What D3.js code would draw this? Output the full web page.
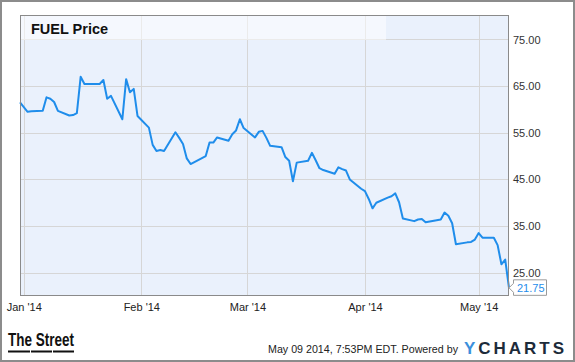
<!DOCTYPE html>
<html>
<head>
<meta charset="utf-8">
<script src="https://cdn.jsdelivr.net/npm/d3@7"></script>
<style>
  html, body { margin: 0; padding: 0; background: #fff; }
  svg { display: block; }
  text { font-family: "Liberation Sans", Arial, sans-serif; }
</style>
</head>
<body>
<svg id="chart" width="575" height="362"></svg>
<script>
// ---- data ----
const dates = [
  "2013-12-31","2014-01-02","2014-01-03","2014-01-06","2014-01-07","2014-01-08","2014-01-09","2014-01-10",
  "2014-01-13","2014-01-14","2014-01-15","2014-01-16","2014-01-17","2014-01-21","2014-01-22","2014-01-23",
  "2014-01-24","2014-01-27","2014-01-28","2014-01-29","2014-01-30","2014-01-31","2014-02-03","2014-02-04",
  "2014-02-05","2014-02-06","2014-02-07","2014-02-10","2014-02-11","2014-02-12","2014-02-13","2014-02-14",
  "2014-02-18","2014-02-19","2014-02-20","2014-02-21","2014-02-24","2014-02-25","2014-02-26","2014-02-27",
  "2014-02-28","2014-03-03","2014-03-04","2014-03-05","2014-03-06","2014-03-07","2014-03-10","2014-03-11",
  "2014-03-12","2014-03-13","2014-03-14","2014-03-17","2014-03-18","2014-03-19","2014-03-20","2014-03-21",
  "2014-03-24","2014-03-25","2014-03-26","2014-03-27","2014-03-28","2014-03-31","2014-04-01","2014-04-02",
  "2014-04-03","2014-04-04","2014-04-07","2014-04-08","2014-04-09","2014-04-10","2014-04-11","2014-04-14",
  "2014-04-15","2014-04-16","2014-04-17","2014-04-21","2014-04-22","2014-04-23","2014-04-24","2014-04-25",
  "2014-04-28","2014-04-29","2014-04-30","2014-05-01","2014-05-02","2014-05-05","2014-05-06","2014-05-07",
  "2014-05-08","2014-05-09"
];
const prices = [
  61.5, 59.5, 59.6, 59.7, 62.6, 62.3, 61.6, 59.7,
  58.7, 58.8, 59.2, 67.0, 65.45, 65.45, 66.3, 62.3,
  62.9, 57.9, 66.5, 63.7, 64.4, 58.6, 56.1, 52.4,
  51.1, 51.3, 51.1, 55.1, 53.9, 52.6, 49.5, 48.3,
  50.0, 52.9, 52.9, 54.0, 53.3, 54.7, 55.5, 57.9,
  56.0, 54.0, 55.2, 55.4, 53.9, 52.2, 51.9, 49.8,
  49.0, 44.6, 48.6, 49.0, 50.7, 49.1, 47.4, 47.0,
  46.2, 47.6, 47.2, 46.9, 45.0, 43.0, 42.5, 40.8,
  38.8, 40.0, 41.1, 41.4, 42.0, 40.1, 36.6, 36.05,
  36.4, 36.5, 35.8, 36.4, 37.9, 37.2, 35.6, 31.1,
  31.5, 31.6, 32.1, 33.5, 32.5, 32.5, 30.9, 26.8,
  27.8, 21.75
];
const yTicks = [25, 35, 45, 55, 65, 75];
const xTickDates = ["2014-01-01","2014-02-01","2014-03-01","2014-04-01","2014-05-01"];
const xTickLabels = ["Jan '14","Feb '14","Mar '14","Apr '14","May '14"];
const title = "FUEL Price";
const lastLabel = "21.75";
const footerText = "May 09 2014, 7:53PM EDT. Powered by";

// ---- drawing ----
const svg = d3.select("#chart");
const L = 20, R = 509, T = 15, B = 296;
const parse = d3.utcParse("%Y-%m-%d");
const data = dates.map((d, i) => ({ date: parse(d), value: prices[i] }));

const x = d3.scaleUtc().domain([parse("2013-12-31"), parse("2014-05-09")]).range([L, R]);
const y = d3.scaleLinear().domain([20, 80.25]).range([B, T]);

// outer frame
svg.append("rect").attr("x", 1).attr("y", 1).attr("width", 573).attr("height", 360)
  .attr("fill", "#fff").attr("stroke", "#8c8c8c").attr("stroke-width", 2);

// plot background
svg.append("rect").attr("x", L).attr("y", T).attr("width", R - L).attr("height", B - T)
  .attr("fill", "#eaf1fc");

// grid
svg.append("g").selectAll("line").data(yTicks).join("line")
  .attr("x1", L).attr("x2", R)
  .attr("y1", d => Math.round(y(d)) + 0.5).attr("y2", d => Math.round(y(d)) + 0.5)
  .attr("stroke", "#d6d6d6").attr("stroke-width", 1);
svg.append("g").selectAll("line").data(xTickDates).join("line")
  .attr("y1", T).attr("y2", B)
  .attr("x1", d => Math.round(x(parse(d))) + 0.5).attr("x2", d => Math.round(x(parse(d))) + 0.5)
  .attr("stroke", "#d6d6d6").attr("stroke-width", 1);

// title box
svg.append("rect").attr("x", L).attr("y", T).attr("width", 366).attr("height", 25)
  .attr("fill", "#fff").attr("fill-opacity", 0.5);
svg.append("text").attr("x", 31).attr("y", 33.5).text(title)
  .attr("font-size", "14.5px").attr("font-weight", "bold").attr("fill", "#111");

// line
const line = d3.line().x(d => x(d.date)).y(d => y(d.value));
svg.append("path").datum(data).attr("d", line)
  .attr("fill", "none").attr("stroke", "#1f8deb").attr("stroke-width", 2)
  .attr("stroke-linejoin", "round");

// plot border
svg.append("rect").attr("x", L + 0.5).attr("y", T + 0.5).attr("width", R - L - 1).attr("height", B - T - 1)
  .attr("fill", "none").attr("stroke", "#8a8a8a").attr("stroke-width", 1);

// y axis labels
const yAxis = d3.axisRight(y).tickValues(yTicks).tickFormat(d3.format(".2f")).tickSize(0).tickPadding(4);
const gy = svg.append("g").attr("transform", `translate(${R},0)`).call(yAxis);
gy.select(".domain").remove();
gy.selectAll("text").attr("font-size", "11px").attr("fill", "#333")
  .attr("font-family", "'Liberation Sans', Arial, sans-serif");

// x axis labels
const xAxis = d3.axisBottom(x).tickValues(xTickDates.map(parse))
  .tickFormat((d, i) => xTickLabels[i]).tickSize(0).tickPadding(7);
const gx = svg.append("g").attr("transform", `translate(0,${B})`).call(xAxis);
gx.select(".domain").remove();
gx.selectAll("text").attr("font-size", "11px").attr("fill", "#222")
  .attr("font-family", "'Liberation Sans', Arial, sans-serif");

// last value marker
const last = data[data.length - 1];
const lx = x(last.date), ly = y(last.value);
svg.append("path")
  .attr("d", `M${lx},${ly} L${lx + 4.5},${ly - 4.5} L${lx + 4.5},${ly - 8} L${lx + 37.5},${ly - 8} L${lx + 37.5},${ly + 7.5} L${lx + 4.5},${ly + 7.5} L${lx + 4.5},${ly + 4.5} Z`)
  .attr("fill", "#fff").attr("stroke", "#9a9a9a").attr("stroke-width", 1);
svg.append("text").attr("x", lx + 8).attr("y", ly + 4).text(lastLabel)
  .attr("font-size", "11px").attr("fill", "#1f8deb");

// footer: The Street logo
svg.append("text").attr("x", 8).attr("y", 346).text("The Street")
  .attr("font-family", "'Liberation Sans Narrow', 'DejaVu Sans Condensed', sans-serif")
  .attr("font-size", "19px").attr("font-weight", "bold").attr("fill", "#111")
  .attr("textLength", 66).attr("lengthAdjust", "spacingAndGlyphs");
[[8, 30], [31, 52], [53, 74]].forEach(([a, b]) => {
  svg.append("rect").attr("x", a).attr("y", 350.5).attr("width", b - a).attr("height", 2).attr("fill", "#111");
});

// footer text
svg.append("text").attr("x", 268).attr("y", 352.5).text(footerText)
  .attr("font-size", "11px").attr("fill", "#222")
  .attr("textLength", 190).attr("lengthAdjust", "spacingAndGlyphs");

// YCHARTS logo
const yc = svg.append("text").attr("x", 464).attr("y", 354)
  .attr("font-size", "17px").attr("font-weight", "bold")
  .attr("textLength", 100).attr("lengthAdjust", "spacing");
yc.append("tspan").attr("fill", "#3b8fdc").text("Y");
yc.append("tspan").attr("fill", "#1d2b3a").text("CHARTS");
</script>
</body>
</html>
